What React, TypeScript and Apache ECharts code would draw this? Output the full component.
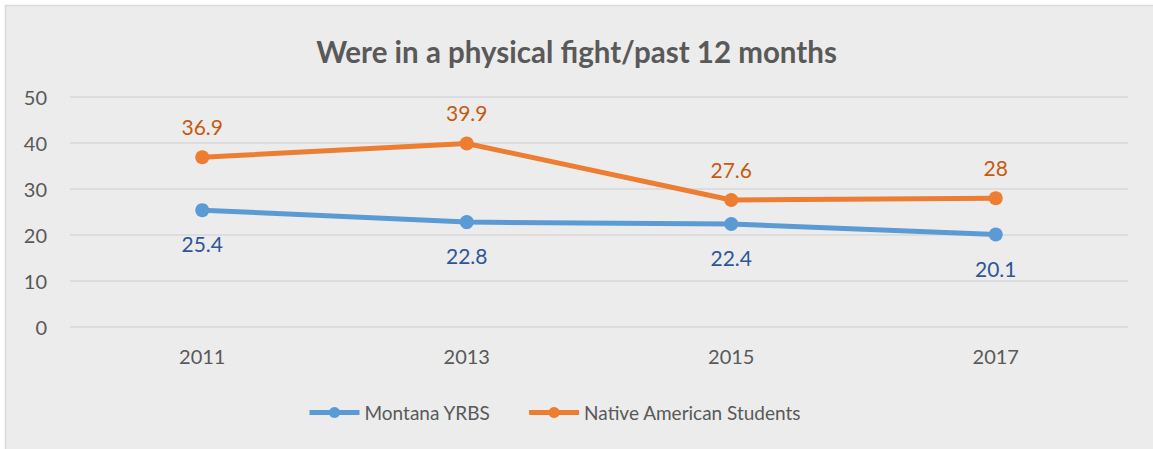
import React, { useEffect, useRef } from "react";
import * as echarts from "echarts";

const years = ["2011", "2013", "2015", "2017"];
const montana = [25.4, 22.8, 22.4, 20.1];
const nativeAm = [36.9, 39.9, 27.6, 28];
const yTicks = [0, 10, 20, 30, 40, 50];
const titleText = "Were in a physical fight/past 12 months";
const seriesNames = ["Montana YRBS", "Native American Students"];

export default function App() {
  const ref = useRef<HTMLDivElement>(null);
  useEffect(() => {
    const chart = echarts.init(ref.current!, null, { renderer: "svg" });
    const font = "Lato, 'Open Sans', sans-serif";
    chart.setOption({
      animation: false,
      backgroundColor: "#ffffff",
      textStyle: { fontFamily: font },
      graphic: [
        {
          type: "rect",
          z: -100,
          silent: true,
          shape: { x: 5.5, y: 5.5, width: 1160, height: 460 },
          style: { fill: "#ececec", stroke: "#d9d9d9", lineWidth: 1.5 },
        },
      ],
      title: {
        text: titleText,
        left: "center",
        top: 31,
        textStyle: { fontSize: 29.5, fontWeight: "bold", color: "#595959", fontFamily: font },
      },
      grid: { left: 70, right: 25, top: 97, bottom: 122, containLabel: false },
      legend: {
        top: 398,
        left: 302,
        itemWidth: 50,
        itemHeight: 14,
        itemGap: 36,
        lineStyle: { width: 5 },
        textStyle: { fontSize: 19, color: "#595959", fontFamily: font },
        data: seriesNames,
      },
      xAxis: {
        type: "category",
        data: years,
        boundaryGap: true,
        axisLine: { show: false },
        axisTick: { show: false },
        axisLabel: { fontSize: 20, color: "#595959", margin: 19 },
      },
      yAxis: {
        type: "value",
        min: yTicks[0],
        max: yTicks[yTicks.length - 1],
        interval: yTicks[1] - yTicks[0],
        axisLine: { show: false },
        axisTick: { show: false },
        axisLabel: { fontSize: 20, color: "#595959", margin: 23 },
        splitLine: { lineStyle: { color: "#d9d9d9", width: 1.5 } },
      },
      series: [
        {
          name: seriesNames[0],
          type: "line",
          data: montana,
          color: "#5b9bd5",
          lineStyle: { width: 5 },
          symbol: "circle",
          symbolSize: 14,
          label: {
            show: true,
            position: "bottom",
            distance: 16,
            fontSize: 21,
            color: "#2f5597",
            fontFamily: font,
          },
        },
        {
          name: seriesNames[1],
          type: "line",
          data: nativeAm,
          color: "#ed7d31",
          lineStyle: { width: 5 },
          symbol: "circle",
          symbolSize: 14,
          label: {
            show: true,
            position: "top",
            distance: 13,
            fontSize: 21,
            color: "#c55a11",
            fontFamily: font,
          },
        },
      ],
    });
    return () => chart.dispose();
  }, []);
  return (
    <div
      style={{ position: "fixed", left: 0, top: 0, width: 1153, height: 449 }}
    >
      <div ref={ref} style={{ width: 1153, height: 449 }} />
    </div>
  );
}
